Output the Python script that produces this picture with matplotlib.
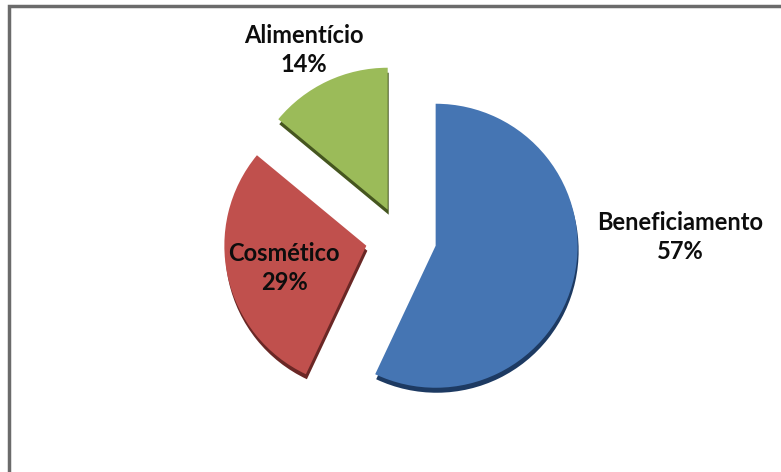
import matplotlib.pyplot as plt
from matplotlib.patches import Rectangle

plt.rcParams['font.family'] = ['Lato', 'DejaVu Sans']

setores = ['Beneficiamento', 'Cosmético', 'Alimentício']
percentuais = [57, 29, 14]
cores = ['#4575b3', '#c0504d', '#9bbb59']
cores_borda = ['#1d3a62', '#6a2725', '#45561f']

W, H = 781, 472
fig = plt.figure(figsize=(W / 100, H / 100), dpi=100)
ax = fig.add_axes([0, 0, 1, 1])

centro = (401, H - 238)
raio = 142
# deslocamento das fatias, em fração do raio
explode = [0.25, 0.25, 0.22]
deslocamento = [e * raio for e in explode]

# espessura do disco: mesma pizza deslocada para baixo, em tom escuro
ax.pie(percentuais, colors=cores_borda, startangle=90, counterclock=False,
       explode=deslocamento, center=(centro[0] + 1, centro[1] - 5), radius=raio,
       wedgeprops=dict(linewidth=0))
ax.pie(percentuais, colors=cores, startangle=90, counterclock=False,
       explode=deslocamento, center=centro, radius=raio,
       wedgeprops=dict(linewidth=0))

ax.set_xlim(0, W)
ax.set_ylim(0, H)
ax.set_aspect('equal')
ax.axis('off')

# rótulos (nome e percentual)
rotulos = {
    'Beneficiamento': (680, 237),
    'Cosmético': (284, 268),
    'Alimentício': (304, 50),
}
for nome, p in zip(setores, percentuais):
    x, y = rotulos[nome]
    ax.text(x, H - y, f'{nome}\n{p}%', ha='center', va='center',
            fontsize=17, fontweight='bold', color='#0d0d0d', linespacing=1.3)

# moldura do gráfico
ax.add_patch(Rectangle((9, -20), W + 20, H - 6 + 20, fill=False,
                       edgecolor='#6b6b6b', linewidth=2.5, clip_on=False))

fig.savefig('out.png', dpi=100)
